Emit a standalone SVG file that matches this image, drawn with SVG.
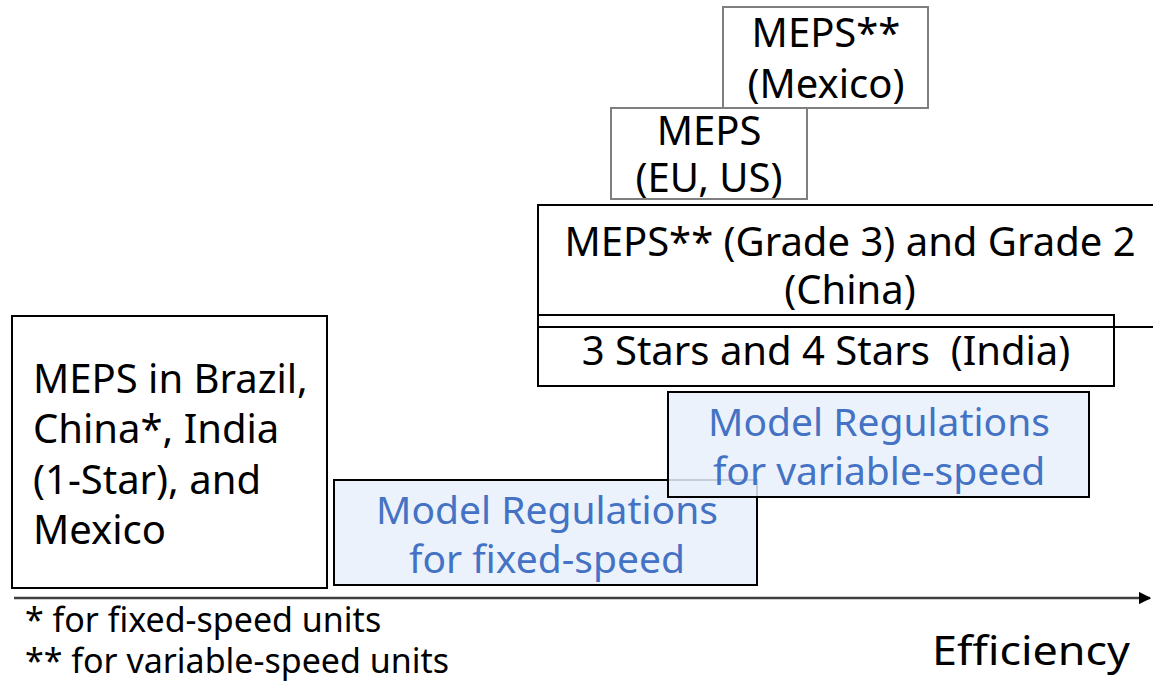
<svg xmlns="http://www.w3.org/2000/svg" width="1153" height="682" viewBox="0 0 1153 682">
  <defs>
    <marker id="arrow" viewBox="0 0 10 10" refX="9" refY="5" markerWidth="5" markerHeight="5" orient="auto" markerUnits="strokeWidth">
      <path d="M0,0 L10,5 L0,10 z" fill="#000"/>
    </marker>
    <style>
      .box { fill: #fff; stroke: #000; stroke-width: 2; }
      .gbox { fill: #fff; stroke: #7f7f7f; stroke-width: 2; }
      .mbox { fill: #e8f0fa; fill-opacity: 0.85; stroke: #000; stroke-width: 2; }
      .t { font-family: "Noto Sans", "Open Sans", sans-serif; font-size: 40px; fill: #000; }
      .c { text-anchor: middle; }
      .b { font-family: "Noto Sans", "Open Sans", sans-serif; font-size: 39px; fill: #4472c4; text-anchor: middle; }
      .note { font-family: "Noto Sans", "Open Sans", sans-serif; font-size: 34px; fill: #000; }
    </style>
  </defs>
  <rect width="1153" height="682" fill="#fff"/>

  <!-- efficiency axis -->
  <g id="connectors">
    <line x1="14" y1="598" x2="1150" y2="598" stroke="#404040" stroke-width="2.5" marker-end="url(#arrow)"/>
  </g>

  <g id="meps-mexico">
    <rect class="gbox" x="723" y="7" width="205" height="101"/>
    <text class="t c" x="826" y="47">MEPS**</text>
    <text class="t c" x="826" y="98">(Mexico)</text>
  </g>

  <g id="meps-eu-us">
    <rect class="gbox" x="611" y="108" width="196" height="91"/>
    <text class="t c" x="709" y="145">MEPS</text>
    <text class="t c" x="709" y="192">(EU, US)</text>
  </g>

  <g id="meps-china">
    <rect class="box" x="538" y="205" width="630" height="122"/>
    <text class="t c" x="850" y="256">MEPS** (Grade 3) and Grade 2</text>
    <text class="t c" x="850" y="304">(China)</text>
  </g>

  <g id="stars-india">
    <rect class="box" x="538" y="315" width="576" height="71" fill-opacity="0"/>
    <text class="t c" x="826" y="365" xml:space="preserve">3 Stars and 4 Stars  (India)</text>
  </g>

  <g id="meps-baseline">
    <rect class="box" x="12" y="316" width="315" height="272"/>
    <text class="t" x="33" y="393">MEPS in Brazil,</text>
    <text class="t" x="33" y="443">China*, India</text>
    <text class="t" x="33" y="494">(1-Star), and</text>
    <text class="t" x="33" y="544">Mexico</text>
  </g>

  <g id="model-fixed">
    <rect class="mbox" x="334" y="480" width="423" height="105"/>
    <text class="b" x="547" y="524">Model Regulations</text>
    <text class="b" x="547" y="573">for fixed-speed</text>
  </g>

  <g id="model-variable">
    <rect class="mbox" x="668" y="392" width="421" height="105"/>
    <text class="b" x="879" y="436">Model Regulations</text>
    <text class="b" x="879" y="485">for variable-speed</text>
  </g>

  <g id="notes">
    <text class="note" x="25" y="632">* for fixed-speed units</text>
    <text class="note" x="25" y="673">** for variable-speed units</text>
    <text class="t" x="932" y="665" font-size="50" textLength="198" lengthAdjust="spacingAndGlyphs">Efficiency</text>
  </g>
</svg>
